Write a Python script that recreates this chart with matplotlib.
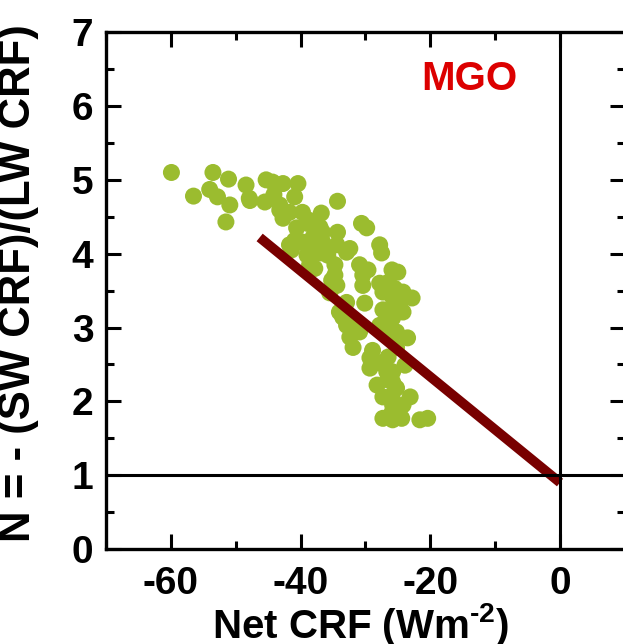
import matplotlib
matplotlib.use("Agg")
from matplotlib import pyplot as plt
from matplotlib.ticker import MultipleLocator
import numpy as np

plt.rcParams['font.family'] = ['Liberation Sans', 'DejaVu Sans']
plt.rcParams['font.weight'] = 'bold'
plt.rcParams['axes.unicode_minus'] = False
plt.rcParams['mathtext.fontset'] = 'custom'
plt.rcParams['mathtext.rm'] = 'Liberation Sans:bold'
plt.rcParams['mathtext.bf'] = 'Liberation Sans:bold'

# Net CRF (W m-2) and N = -(SW CRF)/(LW CRF)
net_crf = [
    -59.9, -56.5, -53.5, -54.0, -51.1, -52.8, -50.9, -51.5,
    -48.4, -47.8, -45.3, -44.3, -42.7, -40.4, -40.9, -45.5, -43.2, -42.7,
    -39.7, -36.8, -34.3, -40.6, -38.9, -37.0, -34.3, -30.6, -29.8, -39.8,
    -38.1, -36.6, -41.4, -34.4, -32.4, -27.8, -27.5, -39.0, -37.0, -32.9,
    -38.6, -37.8, -34.7, -30.9, -29.6, -25.9, -25.0, -34.7, -30.4, -30.4,
    -27.8, -34.4, -27.3, -25.5, -24.2, -22.8, -35.5, -32.9, -30.1, -27.3,
    -25.2, -24.2, -33.5, -31.9, -25.8, -32.4, -30.9, -27.8, -25.2, -23.5,
    -31.9, -28.9, -26.5, -29.3, -27.8, -25.8, -23.9, -28.2, -26.5, -25.2,
    -27.3, -23.1, -25.8, -24.2, -27.3, -25.8, -24.4, -21.6, -20.4, -25.8,
    -26.7, -41.7, -40.9, -38.1, -35.8, -35.2, -34.0, -32.9, -26.7, -26.2,
    -29.3, -25.2, -43.2, -41.7, -38.6, -36.6, -26.5, -25.8, -24.7, -25.9,
    -25.9, -47.9, -44.1,
]
n_ratio = [
    5.10, 4.78, 5.10, 4.87, 5.01, 4.77, 4.66, 4.43,
    4.93, 4.72, 5.00, 4.97, 4.95, 4.95, 4.77, 4.70, 4.66, 4.48,
    4.56, 4.55, 4.71, 4.35, 4.41, 4.36, 4.29, 4.41, 4.35, 4.16,
    4.22, 4.16, 4.05, 4.12, 4.07, 4.12, 4.01, 3.98, 4.01, 4.02,
    3.85, 3.80, 3.85, 3.85, 3.78, 3.78, 3.75, 3.71, 3.71, 3.57,
    3.60, 3.57, 3.48, 3.53, 3.48, 3.40, 3.47, 3.34, 3.33, 3.24,
    3.26, 3.21, 3.14, 3.07, 3.13, 2.87, 2.94, 3.03, 2.94, 2.86,
    2.73, 2.69, 2.60, 2.45, 2.52, 2.40, 2.49, 2.22, 2.29, 2.18,
    2.06, 2.06, 1.95, 1.95, 1.77, 1.75, 1.77, 1.75, 1.77, 2.26,
    2.40, 4.12, 4.18, 4.09, 3.98, 3.64, 3.21, 3.03, 3.07, 2.90,
    2.59, 2.73, 4.59, 4.56, 4.45, 4.29, 3.61, 3.41, 3.34, 2.08,
    1.85, 4.75, 4.80,
]

# regression line end points
fit_x = [-46.3, 0.0]
fit_y = [4.22, 0.90]

fig = plt.figure(figsize=(6.23, 6.44), dpi=100)
ax = fig.add_axes([0.170, 0.1475, 0.833, 0.8025])

ax.scatter(net_crf, n_ratio, s=150, color='#9bbc2f', edgecolors='none', zorder=2)
ax.plot(fit_x, fit_y, color='#780000', lw=7, solid_capstyle='butt', zorder=3)
ax.axvline(0, color='black', lw=2.2, zorder=4)
ax.axhline(1, color='black', lw=2.2, zorder=4)

ax.text(-13.9, 6.36, 'MGO', color='#dc0000', fontsize=29, fontweight='bold',
        ha='center', va='center')

ax.set_xlim(-70, 10)
ax.set_ylim(0, 7)
ax.xaxis.set_major_locator(MultipleLocator(20))
ax.xaxis.set_minor_locator(MultipleLocator(10))
ax.yaxis.set_major_locator(MultipleLocator(1))
ax.yaxis.set_minor_locator(MultipleLocator(0.5))
ax.set_xticks([-60, -40, -20, 0])

for sp in ax.spines.values():
    sp.set_linewidth(2.4)
ax.tick_params(which='both', direction='in', top=True, right=True, width=2.2)
ax.tick_params(which='major', length=11, labelsize=28)
ax.tick_params(which='minor', length=5.5)
ax.tick_params(axis='x', which='major', pad=12)
ax.tick_params(axis='y', which='major', pad=9)

ax.set_xlabel('Net CRF (Wm$^{\\text{-2}}$)', fontsize=29, fontweight='bold')
ax.set_ylabel('N = - (SW CRF)/(LW CRF)', fontsize=31.5, fontweight='bold')
ax.xaxis.set_label_coords(0.491, -0.101)
ax.yaxis.set_label_coords(-0.128, 0.515)

plt.savefig('out.png', dpi=100)
